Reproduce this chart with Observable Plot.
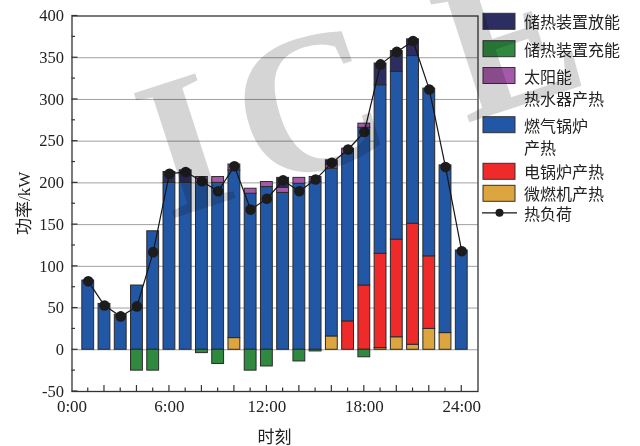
<!DOCTYPE html>
<html>
<head>
<meta charset="utf-8">
<script src="https://cdn.jsdelivr.net/npm/d3@7"></script>
<script src="https://cdn.jsdelivr.net/npm/@observablehq/plot@0.6"></script>
<style>
  html, body { margin: 0; padding: 0; background: #fff; }
  #chart { position: relative; width: 640px; height: 446px; }
</style>
</head>
<body>
<div id="chart"></div>
<script>
// Hourly heat supply schedule (kW), hour index 1..24
const hours = [1,2,3,4,5,6,7,8,9,10,11,12,13,14,15,16,17,18,19,20,21,22,23,24];
const microTurbine     = [0,0,0,0,0,0,0,0,0,14,0,0,0,0,0,16,0,0,2,15,6,25,20,0];
const electricBoiler   = [0,0,0,0,0,0,0,0,0,0,0,0,0,0,0,0,34,77,113,117,145,87,0,0];
const gasBoiler        = [83,55,42,77,142,200,200,200,200,201,187,195,188,199,201,201,201,189,202,201,201,201,201,119];
const solarHeater      = [0,0,0,0,0,0,0,7,7,7,6,6,6,7,6,5,6,5,0,0,0,0,0,0];
const storageDischarge = [0,0,0,0,0,13,15,0,0,0,0,0,12,0,0,5,0,0,26,25,20,0,0,0];
const storageCharge    = [0,0,0,-25,-25,0,0,-4,-17,0,-25,-20,0,-14,-2,0,0,-9,0,0,0,0,0,0];
const heatLoad         = [82,53,40,52,117,211,213,202,190,220,168,181,203,190,204,224,240,261,342,357,370,312,219,118];

// Series names (legend order) and colours
const seriesNames  = ["储热装置放能", "储热装置充能", "太阳能热水器产热", "燃气锅炉产热", "电锅炉产热", "微燃机产热"];
const seriesColors = ["#2c2d60", "#2f8a40", "#a55aa9", "#2257a6", "#ee2a2a", "#dca540"];
const legendLines  = [["储热装置放能"], ["储热装置充能"], ["太阳能", "热水器产热"], ["燃气锅炉", "产热"], ["电锅炉产热"], ["微燃机产热"]];
const loadName = "热负荷";

// Axis ticks
const yTickValues = [-50, 0, 50, 100, 150, 200, 250, 300, 350, 400];
const xTickHours  = [0, 6, 12, 18, 24];
const xTickLabels = ["0:00", "6:00", "12:00", "18:00", "24:00"];

// Stack: positive sources upward from 0 (bottom to top), charging downward
const positiveOrder = [
  ["微燃机产热", microTurbine],
  ["电锅炉产热", electricBoiler],
  ["燃气锅炉产热", gasBoiler],
  ["太阳能热水器产热", solarHeater],
  ["储热装置放能", storageDischarge]
];
const rows = [];
hours.forEach((h, i) => {
  let top = 0;
  for (const [name, arr] of positiveOrder) {
    const v = arr[i];
    if (v > 0) { rows.push({hour: h, series: name, y1: top, y2: top + v}); top += v; }
  }
  if (storageCharge[i] < 0) rows.push({hour: h, series: "储热装置充能", y1: 0, y2: storageCharge[i]});
});
const loadRows = hours.map((h, i) => ({hour: h, load: heatLoad[i]}));

const serif = '"Liberation Serif", "Times New Roman", serif';
const cjk = '"Liberation Serif", "Noto Sans CJK SC", sans-serif';

const chart = Plot.plot({
  width: 640,
  height: 446,
  marginLeft: 71.5,
  marginRight: 162.5,
  marginTop: 15.5,
  marginBottom: 55,
  style: {fontFamily: serif, fontSize: "16.5px", background: "#fff", color: "#222"},
  x: {domain: [0, 25]},
  y: {domain: [-50, 400]},
  color: {domain: seriesNames, range: seriesColors},
  marks: [
    Plot.gridY([0, 50, 100, 150, 200, 250, 300, 350], {stroke: "#a0a0a0", strokeOpacity: 1, strokeWidth: 1}),
    Plot.rect(rows, {
      x1: d => d.hour - 0.5, x2: d => d.hour + 0.5, y1: "y1", y2: "y2",
      fill: "series", stroke: "#2a2a2a", strokeWidth: 1, insetLeft: 2.2, insetRight: 2.2
    }),
    Plot.line(loadRows, {x: "hour", y: "load", stroke: "#151515", strokeWidth: 1.2}),
    Plot.dot(loadRows, {x: "hour", y: "load", r: 5.3, fill: "#1c1c1c", stroke: "none"}),
    Plot.frame({stroke: "#333", strokeWidth: 1.3}),
    Plot.axisY(yTickValues, {tickSize: 0, tickPadding: 8, label: null, tickFormat: d => String(d), fill: "#222"}),
    Plot.axisX(xTickHours, {tickSize: 0, tickPadding: 8, label: null, fontSize: 17, fill: "#222",
      tickFormat: d => xTickLabels[xTickHours.indexOf(d)]})
  ]
});

document.getElementById("chart").appendChild(chart);

const svg = d3.select(chart);
const xs = chart.scale("x");
const ys = chart.scale("y");
const x0 = xs.apply(0), yBottom = ys.apply(-50);

// Inward ticks on the left axis (major every 50, minor every 25)
const tickG = svg.append("g").attr("stroke", "#333").attr("stroke-width", 1.2);
for (let v = -50; v <= 400; v += 25) {
  const len = v % 50 === 0 ? 6 : 3.5;
  tickG.append("line").attr("x1", x0).attr("x2", x0 + len)
    .attr("y1", ys.apply(v)).attr("y2", ys.apply(v));
}
// Inward ticks on the bottom axis (every hour, longer on even hours)
for (const h of hours) {
  const len = h % 2 === 0 ? 6 : 3.5;
  tickG.append("line").attr("x1", xs.apply(h)).attr("x2", xs.apply(h))
    .attr("y1", yBottom).attr("y2", yBottom - len);
}

// Axis titles
svg.append("text")
  .attr("x", (xs.apply(0) + xs.apply(25)) / 2).attr("y", 437)
  .attr("text-anchor", "middle").attr("dominant-baseline", "central")
  .attr("font-family", cjk).attr("font-size", 17).attr("fill", "#222")
  .text("时刻");
svg.append("text")
  .attr("transform", `translate(24,${(ys.apply(-50) + ys.apply(400)) / 2}) rotate(-90)`)
  .attr("text-anchor", "middle").attr("dominant-baseline", "central")
  .attr("font-family", cjk).attr("font-size", 17).attr("fill", "#222")
  .text("功率/kW");

// Legend on the right
const legendCenters = [21.3, 48.7, 75.5, 124.7, 171.3, 193.3];
const lg = svg.append("g").attr("text-anchor", "start");
legendLines.forEach((lines, i) => {
  const cy = legendCenters[i];
  lg.append("rect").attr("x", 483).attr("y", cy - 8).attr("width", 32).attr("height", 16)
    .attr("fill", seriesColors[i]).attr("stroke", "#333").attr("stroke-width", 1);
  lines.forEach((t, j) => {
    lg.append("text").attr("x", 524).attr("y", cy + j * 22.5)
      .attr("text-anchor", "start").attr("dominant-baseline", "central")
      .attr("font-family", '"Noto Sans CJK SC", sans-serif').attr("font-size", 16).attr("fill", "#222")
      .text(t);
  });
});
const loadY = 212.8;
lg.append("line").attr("x1", 482).attr("x2", 517).attr("y1", loadY).attr("y2", loadY)
  .attr("stroke", "#151515").attr("stroke-width", 1.2);
lg.append("circle").attr("cx", 499.5).attr("cy", loadY).attr("r", 4).attr("fill", "#1c1c1c");
lg.append("text").attr("x", 524).attr("y", loadY)
  .attr("text-anchor", "start").attr("dominant-baseline", "central")
  .attr("font-family", '"Noto Sans CJK SC", sans-serif').attr("font-size", 16).attr("fill", "#222")
  .text(loadName);

// Publisher watermark
const wm = svg.append("text")
  .attr("transform", "translate(168,220) rotate(-18)")
  .attr("text-anchor", "start")
  .attr("font-family", serif).attr("font-size", 200).attr("font-weight", "bold")
  .attr("fill", "#d5d5d5")
  .style("mix-blend-mode", "multiply");
wm.append("tspan").text("I");
wm.append("tspan").attr("dx", 19).text("C");
wm.append("tspan").attr("dx", 72).text("E");
</script>
</body>
</html>
